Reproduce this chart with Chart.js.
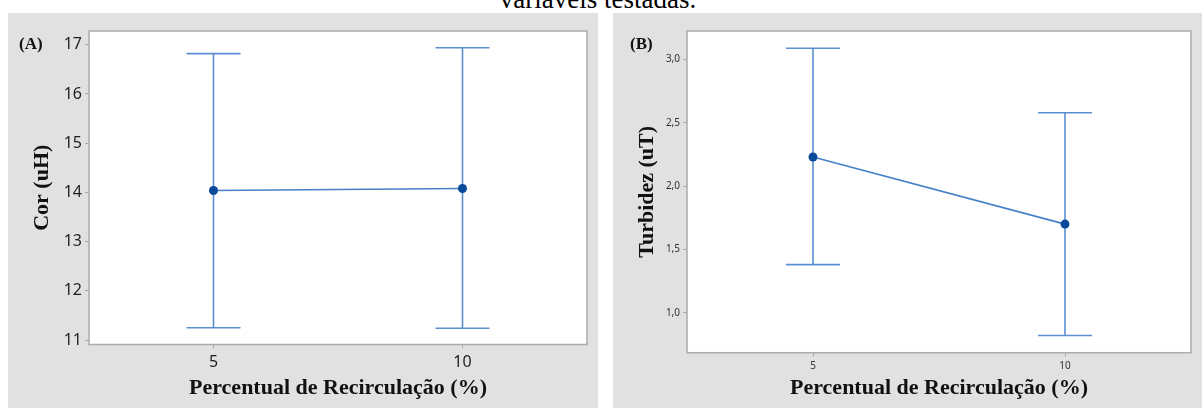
<!DOCTYPE html>
<html lang="pt">
<head>
<meta charset="utf-8">
<script src="https://cdn.jsdelivr.net/npm/chart.js@4.4.1/dist/chart.umd.min.js"></script>
<style>
  body { margin: 0; width: 1202px; height: 408px; overflow: hidden; background: #fff; position: relative; }
  .caption { position: absolute; left: -3px; width: 1202px; top: -14px; text-align: center;
             font: 27px/27px "Liberation Serif", "Times New Roman", serif; color: #000; }
  .panel { position: absolute; top: 13px; height: 395px; background: #e1e1e1; }
  #panelA { left: 8px; width: 590px; }
  #panelB { left: 613px; width: 589px; }
  .tag { position: absolute; top: 22px; font: bold 17px/18px "Liberation Serif", serif; color: #111; z-index: 2; }
  canvas { position: absolute; left: 0; top: 0; }
</style>
</head>
<body>
<div class="caption">variáveis testadas.</div>
<div class="panel" id="panelA">
  <div class="tag" style="left:11px">(A)</div>
  <canvas id="chartA" width="590" height="395"></canvas>
</div>
<div class="panel" id="panelB">
  <div class="tag" style="left:17px">(B)</div>
  <canvas id="chartB" width="589" height="395"></canvas>
</div>
<script>
// Percentual de recirculação (x)
const recirc = [5, 10];
const xTicks = [5, 10];

// Cor (uH): média e intervalo
const corMean = [14.04, 14.08];
const corLow = [11.25, 11.24];
const corHigh = [16.82, 16.94];
const corTicks = [11, 12, 13, 14, 15, 16, 17];

// Turbidez (uT): média e intervalo
const turbMean = [2.23, 1.70];
const turbLow = [1.38, 0.82];
const turbHigh = [3.09, 2.58];
const turbTicks = [1.0, 1.5, 2.0, 2.5, 3.0];

const barColor = '#5b8fd2';
const lineColor = '#4580c8';
const pointColor = '#0a4a9a';

// white plot area + grey frame
const plotFrame = {
    id: 'plotFrame',
    beforeDraw(chart) {
        const a = chart.chartArea;
        const ctx = chart.ctx;
        ctx.save();
        ctx.fillStyle = '#fff';
        ctx.fillRect(a.left, a.top, a.right - a.left, a.bottom - a.top);
        ctx.restore();
    },
    afterDraw(chart) {
        const a = chart.chartArea;
        const ctx = chart.ctx;
        ctx.save();
        ctx.strokeStyle = '#ababab';
        ctx.lineWidth = 1.5;
        ctx.strokeRect(a.left, a.top, a.right - a.left, a.bottom - a.top);
        ctx.restore();
    }
};

function makeErrorBars(xs, low, high) {
    return {
        id: 'errorBars',
        beforeDatasetsDraw(chart) {
            const { ctx, scales: { x, y } } = chart;
            ctx.save();
            ctx.strokeStyle = barColor;
            ctx.lineWidth = 1.6;
            xs.forEach((v, i) => {
                const px = x.getPixelForValue(v);
                const top = y.getPixelForValue(high[i]);
                const bot = y.getPixelForValue(low[i]);
                ctx.beginPath();
                ctx.moveTo(px, top);
                ctx.lineTo(px, bot);
                ctx.moveTo(px - 27, top);
                ctx.lineTo(px + 27, top);
                ctx.moveTo(px - 27, bot);
                ctx.lineTo(px + 27, bot);
                ctx.stroke();
            });
            ctx.restore();
        }
    };
}

function buildChart(id, opt) {
    const ctx = document.getElementById(id).getContext('2d');
    return new Chart(ctx, {
        type: 'line',
        data: {
            datasets: [{
                data: recirc.map((v, i) => ({ x: v, y: opt.mean[i] })),
                borderColor: lineColor,
                borderWidth: 1.6,
                pointRadius: 4.5,
                pointBorderWidth: 0,
                pointBackgroundColor: pointColor,
                tension: 0
            }]
        },
        options: {
            responsive: false,
            animation: false,
            layout: { padding: { left: 0, top: 18, right: 11, bottom: 0 } },
            plugins: { legend: { display: false }, tooltip: { enabled: false } },
            scales: {
                x: {
                    type: 'linear', min: 2.5, max: 12.5,
                    afterBuildTicks: s => { s.ticks = xTicks.map(v => ({ value: v })); },
                    afterFit: s => { s.height = opt.xHeight; },
                    grid: { drawOnChartArea: false, tickLength: 4, color: '#a8a8a8' },
                    border: { display: false },
                    ticks: { padding: opt.xPad, color: opt.tickColor, font: { family: 'Noto Sans', size: opt.tickSize }, callback: v => String(v) },
                    title: {
                        display: true, text: 'Percentual de Recirculação (%)', color: '#111',
                        font: { family: 'Liberation Serif', size: 22, weight: 'bold' },
                        padding: { top: 0, bottom: 6 }
                    }
                },
                y: {
                    min: opt.yMin, max: opt.yMax,
                    afterBuildTicks: s => { s.ticks = opt.ticks.map(v => ({ value: v })); },
                    afterFit: s => { s.width = opt.yWidth; },
                    grid: { drawOnChartArea: false, tickLength: 4, color: '#a8a8a8' },
                    border: { display: false },
                    ticks: { padding: 3, color: opt.tickColor, font: { family: 'Noto Sans', size: opt.tickSize }, callback: opt.fmt },
                    title: {
                        display: true, text: opt.title, color: '#111',
                        font: { family: 'Liberation Serif', size: 22, weight: 'bold' },
                        padding: { top: 21, bottom: 0 }
                    }
                }
            }
        },
        plugins: [plotFrame, makeErrorBars(recirc, opt.low, opt.high)]
    });
}

buildChart('chartA', {
    mean: corMean, low: corLow, high: corHigh, ticks: corTicks,
    yMin: 10.91, yMax: 17.28, yWidth: 81, xHeight: 63.5, xPad: 4, tickSize: 16, tickColor: '#1e1e1e',
    title: 'Cor (uH)', fmt: v => String(v)
});

buildChart('chartB', {
    mean: turbMean, low: turbLow, high: turbHigh, ticks: turbTicks,
    yMin: 0.684, yMax: 3.226, yWidth: 74, xHeight: 55.3, xPad: 3, tickSize: 10, tickColor: '#333',
    title: 'Turbidez (uT)', fmt: v => v.toFixed(1).replace('.', ',')
});
</script>
</body>
</html>
